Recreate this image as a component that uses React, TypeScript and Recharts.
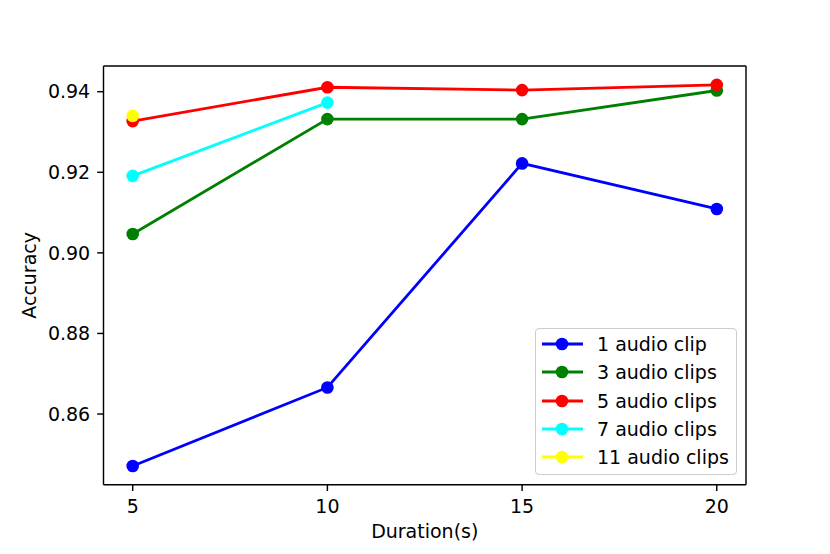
import React from 'react';
import { LineChart, Line, XAxis, YAxis, Label } from 'recharts';

const durations = [5, 10, 15, 20];
const clip1 = [0.8471, 0.8666, 0.9222, 0.9109];
const clip3 = [0.9047, 0.9332, 0.9332, 0.9403];
const clip5 = [0.9327, 0.9411, 0.9404, 0.9417];
const clip7 = [0.9191, 0.9373];
const clip11 = [0.934];

const xTicks = [5, 10, 15, 20];
const yTicks = [0.86, 0.88, 0.9, 0.92, 0.94];

const seriesNames = ['1 audio clip', '3 audio clips', '5 audio clips', '7 audio clips', '11 audio clips'];
const seriesKeys = ['c1', 'c3', 'c5', 'c7', 'c11'];
const seriesColors = ['#0000ff', '#008000', '#ff0000', '#00ffff', '#ffff00'];

const data = durations.map((d, i) => ({
  d,
  c1: clip1[i] ?? null,
  c3: clip3[i] ?? null,
  c5: clip5[i] ?? null,
  c7: clip7[i] ?? null,
  c11: clip11[i] ?? null,
}));

const FONT = 'DejaVu Sans';
const FS = 19;
const tickStyle = { fontFamily: FONT, fontSize: FS, fill: '#000' };
const DOT_R = 6.3;
const LW = 2.8;

const LegendBox = () => (
  <div
    style={{
      position: 'absolute',
      left: 535,
      top: 328,
      border: '1.4px solid #cccccc',
      borderRadius: 4,
      background: 'rgba(255,255,255,0.8)',
      padding: '1px 4px 3px 6px',
      fontFamily: FONT,
      fontSize: FS,
      color: '#000',
      boxSizing: 'border-box',
      width: 202,
    }}
  >
    {seriesNames.map((n, i) => (
      <div key={n} style={{ display: 'flex', alignItems: 'center', height: 28.3 }}>
        <svg width={41} height={16} style={{ display: 'block', flex: 'none' }}>
          <line x1={0} y1={8} x2={41} y2={8} stroke={seriesColors[i]} strokeWidth={LW} />
          <circle cx={20} cy={8} r={DOT_R} fill={seriesColors[i]} />
        </svg>
        <span style={{ marginLeft: 14, whiteSpace: 'nowrap', lineHeight: '28px' }}>{n}</span>
      </div>
    ))}
  </div>
);

const YLabel = (props: any) => {
  const vb = props.viewBox || {};
  const x = (vb.x ?? 0) + 36;
  const y = (vb.y ?? 0) + (vb.height ?? 0) / 2;
  return (
    <text
      x={x}
      y={y}
      transform={`rotate(-90, ${x}, ${y})`}
      textAnchor="middle"
      fontFamily={FONT}
      fontSize={FS}
      fill="#000"
    >
      Accuracy
    </text>
  );
};

export default function App() {
  return (
    <div style={{ position: 'absolute', left: 0, top: 0, width: 830, height: 554, background: '#fff' }}>
      <LineChart width={830} height={554} data={data} margin={{ top: 65, right: 83, bottom: 0, left: 0 }}>
        <XAxis
          dataKey="d"
          type="number"
          domain={[4.25, 20.75]}
          ticks={xTicks}
          allowDataOverflow
          height={69.3}
          tick={tickStyle}
          tickSize={6.3}
          tickMargin={8.5}
          stroke="#000"
          strokeWidth={1.44}
          tickLine={{ stroke: '#000', strokeWidth: 1.44 }}
        >
          <Label value="Duration(s)" position="insideBottom" offset={16} style={{ fontFamily: FONT, fontSize: FS, fill: '#000' }} />
        </XAxis>
        <XAxis
          xAxisId="top"
          orientation="top"
          dataKey="d"
          type="number"
          domain={[4.25, 20.75]}
          allowDataOverflow
          height={1}
          tick={false}
          tickLine={false}
          stroke="#000"
          strokeWidth={1.44}
        />
        <YAxis
          type="number"
          domain={[0.84246, 0.94638]}
          ticks={yTicks}
          allowDataOverflow
          width={103.5}
          tick={tickStyle}
          tickSize={6.3}
          tickMargin={7}
          tickFormatter={(v: number) => v.toFixed(2)}
          stroke="#000"
          strokeWidth={1.44}
          tickLine={{ stroke: '#000', strokeWidth: 1.44 }}
        >
          <Label content={<YLabel />} />
        </YAxis>
        <YAxis
          yAxisId="right"
          orientation="right"
          type="number"
          domain={[0.84246, 0.94638]}
          allowDataOverflow
          width={1}
          tick={false}
          tickLine={false}
          stroke="#000"
          strokeWidth={1.44}
        />
        {seriesKeys.map((k, i) => (
          <Line
            key={k}
            dataKey={k}
            name={seriesNames[i]}
            stroke={seriesColors[i]}
            strokeWidth={LW}
            dot={{ r: DOT_R, fill: seriesColors[i], stroke: 'none', strokeWidth: 0 }}
            activeDot={false}
            isAnimationActive={false}
            connectNulls={false}
          />
        ))}
      </LineChart>
      <LegendBox />
    </div>
  );
}
